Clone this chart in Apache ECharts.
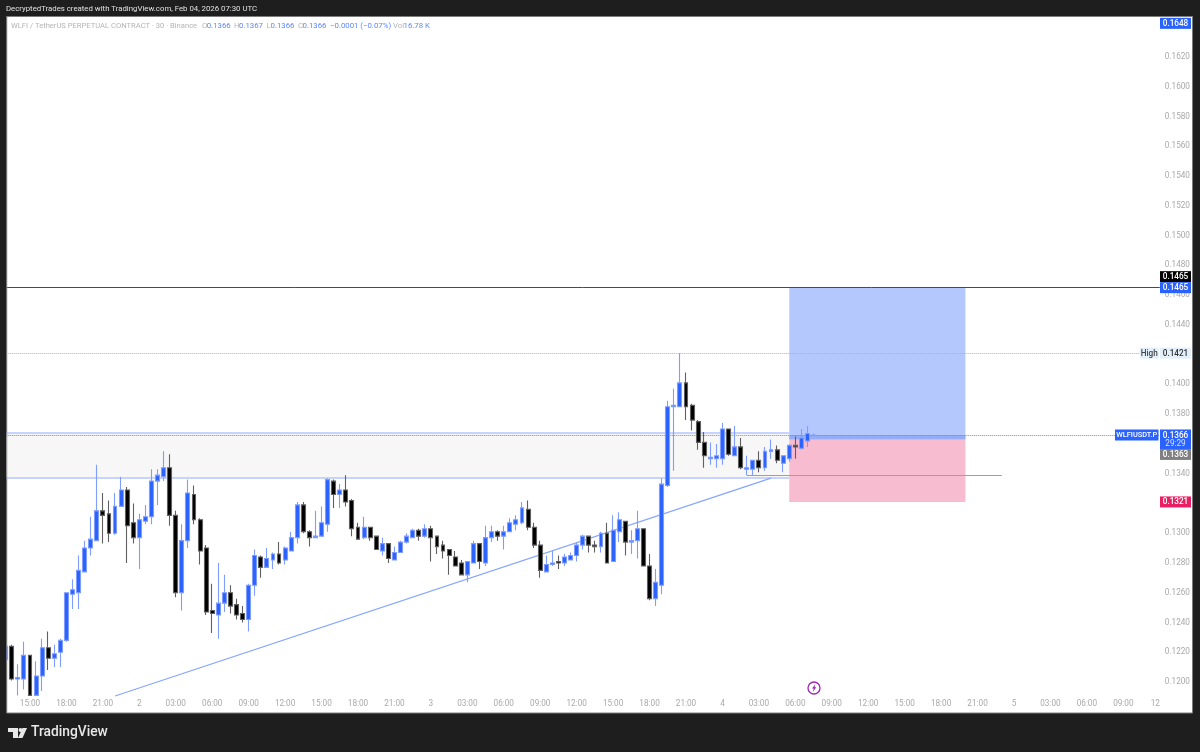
<!DOCTYPE html>
<html lang="en">
<head>
<meta charset="UTF-8">
<title>WLFIUSDT.P 30m</title>
<script src="https://cdn.jsdelivr.net/npm/echarts@6/dist/echarts.min.js"></script>
<style>html,body{margin:0;padding:0;background:#1e1e1e}#chart{width:1200px;height:752px}</style>
</head>
<body>
<div id="chart"></div>
<script>
var xTickLabels = ['15:00','18:00','21:00','2','03:00','06:00','09:00','12:00','15:00','18:00','21:00','3','03:00','06:00','09:00','12:00','15:00','18:00','21:00','4','03:00','06:00','09:00','12:00','15:00','18:00','21:00','5','03:00','06:00','09:00','12'];
var yTicks = [0.1200,0.1220,0.1240,0.1260,0.1280,0.1300,0.1320,0.1340,0.1360,0.1380,0.1400,0.1420,0.1440,0.1460,0.1480,0.1500,0.1520,0.1540,0.1560,0.1580,0.1600,0.1620,0.1640];

// candles 4 and 5 run off the bottom of the pane, 0.1191 is as far as they can be read
var opens = [0.1215,0.1224,0.1202,0.1202,0.1218,0.1191,0.1204,0.1223,0.1216,0.1220,
0.1228,0.1259,0.1260,0.1274,0.1290,0.1295,0.1315,0.1313,0.1300,0.1318,
0.1329,0.1307,0.1297,0.1308,0.1311,0.1335,0.1338,0.1344,0.1312,0.1260,
0.1295,0.1326,0.1309,0.1290,0.1248,0.1245,0.1253,0.1260,0.1252,0.1246,
0.1242,0.1265,0.1284,0.1277,0.1282,0.1286,0.1282,0.1288,0.1297,0.1319,
0.1301,0.1297,0.1298,0.1306,0.1335,0.1326,0.1329,0.1322,0.1304,0.1297,
0.1304,0.1298,0.1288,0.1293,0.1282,0.1287,0.1294,0.1297,0.1302,0.1298,
0.1303,0.1298,0.1292,0.1289,0.1284,0.1280,0.1272,0.1280,0.1293,0.1280,
0.1297,0.1301,0.1298,0.1301,0.1306,0.1307,0.1316,0.1304,0.1292,0.1274,
0.1279,0.1281,0.1280,0.1282,0.1285,0.1292,0.1298,0.1292,0.1291,0.1300,
0.1281,0.1301,0.1308,0.1294,0.1295,0.1303,0.1278,0.1256,0.1265,0.1332,
0.1385,0.1385,0.1401,0.1386,0.1375,0.1361,0.1350,0.1350,0.1350,0.1370,
0.1352,0.1358,0.1343,0.1343,0.1349,0.1344,0.1355,0.1356,0.1347,0.1350,
0.1359,0.1357,0.1362,0.1366];
var closes = [0.1224,0.1202,0.1203,0.1218,0.1191,0.1204,0.1223,0.1216,0.1219,0.1228,
0.1260,0.1262,0.1275,0.1290,0.1296,0.1315,0.1312,0.1300,0.1318,0.1329,
0.1305,0.1297,0.1309,0.1311,0.1335,0.1339,0.1344,0.1312,0.1260,0.1295,
0.1327,0.1309,0.1288,0.1247,0.1246,0.1253,0.1260,0.1251,0.1245,0.1242,
0.1265,0.1285,0.1277,0.1283,0.1286,0.1280,0.1290,0.1297,0.1319,0.1301,
0.1297,0.1298,0.1307,0.1336,0.1326,0.1329,0.1321,0.1303,0.1296,0.1304,
0.1297,0.1289,0.1293,0.1283,0.1287,0.1294,0.1298,0.1302,0.1298,0.1303,
0.1297,0.1291,0.1288,0.1285,0.1278,0.1272,0.1281,0.1293,0.1281,0.1297,
0.1301,0.1298,0.1301,0.1307,0.1309,0.1317,0.1304,0.1292,0.1275,0.1279,
0.1280,0.1280,0.1284,0.1285,0.1292,0.1298,0.1292,0.1291,0.1300,0.1280,
0.1302,0.1309,0.1294,0.1295,0.1303,0.1278,0.1256,0.1267,0.1333,0.1385,
0.1386,0.1401,0.1385,0.1376,0.1361,0.1352,0.1351,0.1352,0.1370,0.1353,
0.1358,0.1344,0.1344,0.1349,0.1344,0.1355,0.1356,0.1349,0.1352,0.1359,
0.1358,0.1364,0.1367,0.1366];
var lows = [0.1215,0.1201,0.1191,0.1195,0.1191,0.1191,0.1194,0.1208,0.1210,0.1210,
0.1227,0.1249,0.1249,0.1274,0.1285,0.1295,0.1293,0.1294,0.1299,0.1318,
0.1280,0.1293,0.1276,0.1306,0.1306,0.1319,0.1335,0.1305,0.1257,0.1248,
0.1290,0.1306,0.1279,0.1245,0.1233,0.1229,0.1247,0.1246,0.1242,0.1240,
0.1234,0.1258,0.1270,0.1277,0.1276,0.1279,0.1279,0.1288,0.1293,0.1300,
0.1291,0.1297,0.1298,0.1301,0.1317,0.1317,0.1318,0.1298,0.1296,0.1296,
0.1295,0.1289,0.1285,0.1280,0.1282,0.1287,0.1293,0.1297,0.1295,0.1297,
0.1281,0.1286,0.1283,0.1272,0.1278,0.1272,0.1267,0.1280,0.1276,0.1278,
0.1294,0.1295,0.1289,0.1301,0.1302,0.1306,0.1302,0.1290,0.1270,0.1274,
0.1278,0.1276,0.1278,0.1282,0.1281,0.1289,0.1287,0.1287,0.1287,0.1280,
0.1281,0.1294,0.1285,0.1286,0.1283,0.1278,0.1255,0.1251,0.1259,0.1331,
0.1342,0.1385,0.1376,0.1369,0.1356,0.1344,0.1346,0.1344,0.1346,0.1352,
0.1352,0.1343,0.1339,0.1339,0.1341,0.1342,0.1350,0.1347,0.1341,0.1348,
0.1350,0.1356,0.1358,0.1366];
var highs = [0.1224,0.1225,0.1212,0.1227,0.1218,0.1214,0.1229,0.1234,0.1225,0.1229,
0.1260,0.1269,0.1285,0.1295,0.1311,0.1346,0.1327,0.1322,0.1327,0.1338,
0.1331,0.1320,0.1313,0.1319,0.1343,0.1343,0.1355,0.1353,0.1315,0.1306,
0.1336,0.1332,0.1310,0.1292,0.1266,0.1280,0.1272,0.1265,0.1256,0.1251,
0.1266,0.1289,0.1285,0.1290,0.1287,0.1294,0.1291,0.1301,0.1321,0.1321,
0.1302,0.1315,0.1318,0.1337,0.1336,0.1333,0.1339,0.1323,0.1307,0.1311,
0.1304,0.1298,0.1297,0.1293,0.1291,0.1295,0.1300,0.1303,0.1303,0.1306,
0.1305,0.1298,0.1295,0.1289,0.1288,0.1282,0.1281,0.1295,0.1293,0.1305,
0.1305,0.1302,0.1305,0.1310,0.1312,0.1321,0.1322,0.1307,0.1295,0.1285,
0.1288,0.1285,0.1286,0.1287,0.1294,0.1299,0.1298,0.1295,0.1301,0.1307,
0.1312,0.1314,0.1308,0.1302,0.1315,0.1303,0.1286,0.1276,0.1337,0.1389,
0.1397,0.1421,0.1408,0.1387,0.1376,0.1368,0.1361,0.1360,0.1374,0.1370,
0.1372,0.1364,0.1352,0.1349,0.1355,0.1358,0.1363,0.1359,0.1352,0.1360,
0.1365,0.1370,0.1372,0.1367];

// drawing levels
var target = 0.1465, entry = 0.1363, stop = 0.1321, last = 0.1366, dayHigh = 0.1421;
var zoneTop = 0.13672, zoneBottom = 0.13374, shelf = 0.1339;

// half hour bars from Feb 1 13:00 on, a few days past the last candle
var categories = [];
for (var i = 0; i < 191; i++) {
  var mins = 13 * 60 + i * 30;
  var d = 1 + Math.floor(mins / 1440), h = Math.floor(mins % 1440 / 60), m = mins % 60;
  categories.push('02-0' + d + ' ' + (h < 10 ? '0' : '') + h + (m ? ':30' : ':00'));
}
var candles = opens.map(function (o, i) { return [o, closes[i], lows[i], highs[i]]; });

var FONT = 'Roboto, sans-serif';
var BLUE = '#2962ff';
var AXIS_GREY = '#a9a9a9';
var plotLeft = 2.67, barStep = 6.074, plotTop = 17, plotBottom = 696;
// 0.1200 sits at y=682, 14881 px per 1.0 of price
var yMin = 0.1200 - 14 / 14881, yMax = 0.1200 + 665 / 14881;

var chart = echarts.init(document.getElementById('chart'));

function hline(price, from, to, color, width, type) {
  return [
    { coord: [categories[from], price], lineStyle: { color: color, width: width, type: type } },
    { coord: [categories[to], price] }
  ];
}

chart.setOption({
  animation: false,
  backgroundColor: '#1e1e1e',
  grid: { left: plotLeft, width: barStep * 191, top: plotTop, height: plotBottom - plotTop },
  xAxis: {
    type: 'category',
    data: categories,
    boundaryGap: true,
    axisLine: { show: false },
    axisTick: { show: false },
    splitLine: { show: false },
    axisLabel: {
      interval: function (i) { return i >= 4 && (i - 4) % 6 === 0; },
      formatter: function (v, i) {
        var t = xTickLabels[(i - 4) / 6];
        return t === '12' ? '{cut|12}' : t;
      },
      rich: { cut: { padding: [0, 9, 0, 0], color: AXIS_GREY, fontFamily: FONT, fontSize: 8.2 } },
      color: AXIS_GREY, fontFamily: FONT, fontSize: 8.2, margin: 4
    }
  },
  yAxis: {
    type: 'value',
    position: 'right',
    min: yMin,
    max: yMax,
    scale: true,
    axisLine: { show: false },
    axisTick: { show: false },
    splitLine: { show: false },
    axisLabel: {
      customValues: yTicks,
      formatter: function (v) { return v.toFixed(4); },
      color: AXIS_GREY, fontFamily: FONT, fontSize: 8.2, margin: 2, padding: [2, 0, 0, 0]
    }
  },
  series: [{
    type: 'candlestick',
    z: 5,
    data: candles,
    barWidth: 4.4,
    itemStyle: {
      color: BLUE, color0: '#000000',
      borderColor: '#7f9dff', borderColor0: '#606060', borderColorDoji: '#7f9dff',
      borderWidth: 1.1
    },
    markArea: {
      silent: true,
      z: 1,
      data: [
        [{ coord: [categories[0], zoneTop], itemStyle: { color: '#f7f7f7' } }, { coord: [categories[129], zoneBottom] }],
        [{ coord: [categories[129], target], itemStyle: { color: '#b5c8fe' } }, { coord: [categories[158], entry] }],
        [{ coord: [categories[129], entry], itemStyle: { color: '#f8bcd1' } }, { coord: [categories[158], stop] }],
        [{ coord: [categories[129], last], itemStyle: { color: '#93aef6' } }, { coord: [categories[158], entry] }]
      ]
    },
    markLine: {
      silent: true,
      z: 2,
      symbol: 'none',
      label: { show: false },
      data: [
        hline(target, 0, 190, '#4a4a4a', 1, 'solid'),
        hline(dayHigh, 0, 190, '#b0b0b0', 1, 'dotted'),
        hline(last, 0, 190, '#5d87ff', 1, 'dotted'),
        hline(zoneTop, 0, 129, '#b3c6ff', 1.5, 'solid'),
        hline(zoneBottom, 0, 129, '#b3c6ff', 1.5, 'solid'),
        hline(shelf, 122, 164, '#7f9cff', 1.2, 'solid'),
        [
          { coord: [categories[18], yMin], lineStyle: { color: '#86a5ff', width: 1.2, type: 'solid' } },
          { coord: [categories[126], 0.1337] }
        ]
      ]
    }
  }]
});

// price pills on the right scale, y comes from the axis
function yOf(price) { return chart.convertToPixel({ yAxisIndex: 0 }, price); }
function pill(x, w, cy, h, fill, text, color, size) {
  return [
    { type: 'rect', z: 60, shape: { x: x, y: cy - h / 2, width: w, height: h }, style: { fill: fill } },
    { type: 'text', z: 61, style: { x: x + w / 2, y: cy + 0.5, text: text, fill: color, font: '500 ' + (size || 8.2) + 'px ' + FONT, align: 'center', verticalAlign: 'middle' } }
  ];
}
function legendText(x, text, color, size) {
  return { type: 'text', z: 60, style: { x: x, y: 26.5, text: text, fill: color, font: size + 'px ' + FONT, verticalAlign: 'middle' } };
}
var PX = 1160, PW = 31, PH = 11;
var LEG_GREY = '#b4b4b4', LEG_BLUE = '#5d87ff';
var els = [
  // page frame
  { type: 'rect', z: -10, shape: { x: 6.5, y: 16.5, width: 1186, height: 696.5 }, style: { fill: '#ffffff', stroke: '#7c7c7c', lineWidth: 1 } },
  { type: 'rect', z: 50, shape: { x: 0, y: 17, width: 6.5, height: 697 }, style: { fill: '#1e1e1e' } },
  { type: 'rect', z: 50, shape: { x: 6.5, y: 17, width: 0.8, height: 696 }, style: { fill: '#9a9a9a' } },
  { type: 'text', z: 60, style: { x: 6, y: 9, text: 'DecryptedTrades created with TradingView.com, Feb 04, 2026 07:30 UTC', fill: '#e0e0e0', font: '7.8px ' + FONT, verticalAlign: 'middle' } },
  legendText(11, 'WLFI / TetherUS PERPETUAL CONTRACT · 30 · Binance', LEG_GREY, 7.6),
  legendText(202, 'O', LEG_GREY, 7.8), legendText(206.7, '0.1366', LEG_BLUE, 7.8),
  legendText(234, 'H', LEG_GREY, 7.8), legendText(239, '0.1367', LEG_BLUE, 7.8),
  legendText(266.5, 'L', LEG_GREY, 7.8), legendText(270.5, '0.1366', LEG_BLUE, 7.8),
  legendText(298, 'C', LEG_GREY, 7.8), legendText(302.5, '0.1366', LEG_BLUE, 7.8),
  legendText(330, '−0.0001 (−0.07%)', LEG_BLUE, 7.8),
  legendText(393, 'Vol', LEG_GREY, 7.8), legendText(403.5, '16.78 K', LEG_BLUE, 7.8),
  // logo
  { type: 'polygon', z: 60, shape: { points: [[8, 728], [18, 728], [18, 738], [13, 738], [13, 732], [8, 732]] }, style: { fill: '#e8e8e8' } },
  { type: 'circle', z: 60, shape: { cx: 20.5, cy: 730, r: 2 }, style: { fill: '#e8e8e8' } },
  { type: 'polygon', z: 60, shape: { points: [[22.5, 728], [27, 728], [22.5, 738], [18, 738]] }, style: { fill: '#e8e8e8' } },
  { type: 'text', z: 60, style: { x: 31, y: 733, text: 'TradingView', fill: '#e8e8e8', font: '500 13.8px ' + FONT, verticalAlign: 'middle' } },
  // earnings style marker
  { type: 'circle', z: 60, shape: { cx: 814, cy: 688, r: 6 }, style: { fill: '#fff', stroke: '#9c27b0', lineWidth: 1.3 } },
  { type: 'polygon', z: 61, shape: { points: [[815.5, 684], [812, 688.5], [813.8, 688.5], [812.8, 692], [816.3, 687.3], [814.5, 687.3]] }, style: { fill: '#9c27b0' } }
];
els = els.concat(pill(PX, PW, yOf(0.1648) + 8, PH, BLUE, '0.1648', '#fff'));
els = els.concat(pill(PX, PW, yOf(target) - 11, PH, '#000000', '0.1465', '#fff'));
els = els.concat(pill(PX, PW, yOf(target), PH, BLUE, '0.1465', '#fff'));
els = els.concat(pill(PX, PW, yOf(dayHigh), PH, '#e3effb', '0.1421', '#333'));
els = els.concat(pill(1140, 18.5, yOf(dayHigh), PH, '#e3effb', 'High', '#444'));
els = els.concat(pill(1115, 43.5, yOf(last), PH, BLUE, 'WLFIUSDT.P', '#fff', 7.4));
els = els.concat([
  { type: 'rect', z: 60, shape: { x: PX, y: yOf(last) - 5.5, width: PW, height: 20 }, style: { fill: BLUE } },
  { type: 'text', z: 61, style: { x: PX + PW / 2, y: yOf(last) + 0.5, text: '0.1366', fill: '#fff', font: '500 8.2px ' + FONT, align: 'center', verticalAlign: 'middle' } },
  { type: 'text', z: 61, style: { x: PX + PW / 2, y: yOf(last) + 9, text: '29:29', fill: '#d7e1ff', font: '8.2px ' + FONT, align: 'center', verticalAlign: 'middle' } }
]);
els = els.concat(pill(PX, PW, yOf(entry) + 15, PH, '#808080', '0.1363', '#fff'));
els = els.concat(pill(PX, PW, yOf(stop), PH, '#e91e63', '0.1321', '#fff'));
chart.setOption({ graphic: { elements: els } });
</script>
</body>
</html>
